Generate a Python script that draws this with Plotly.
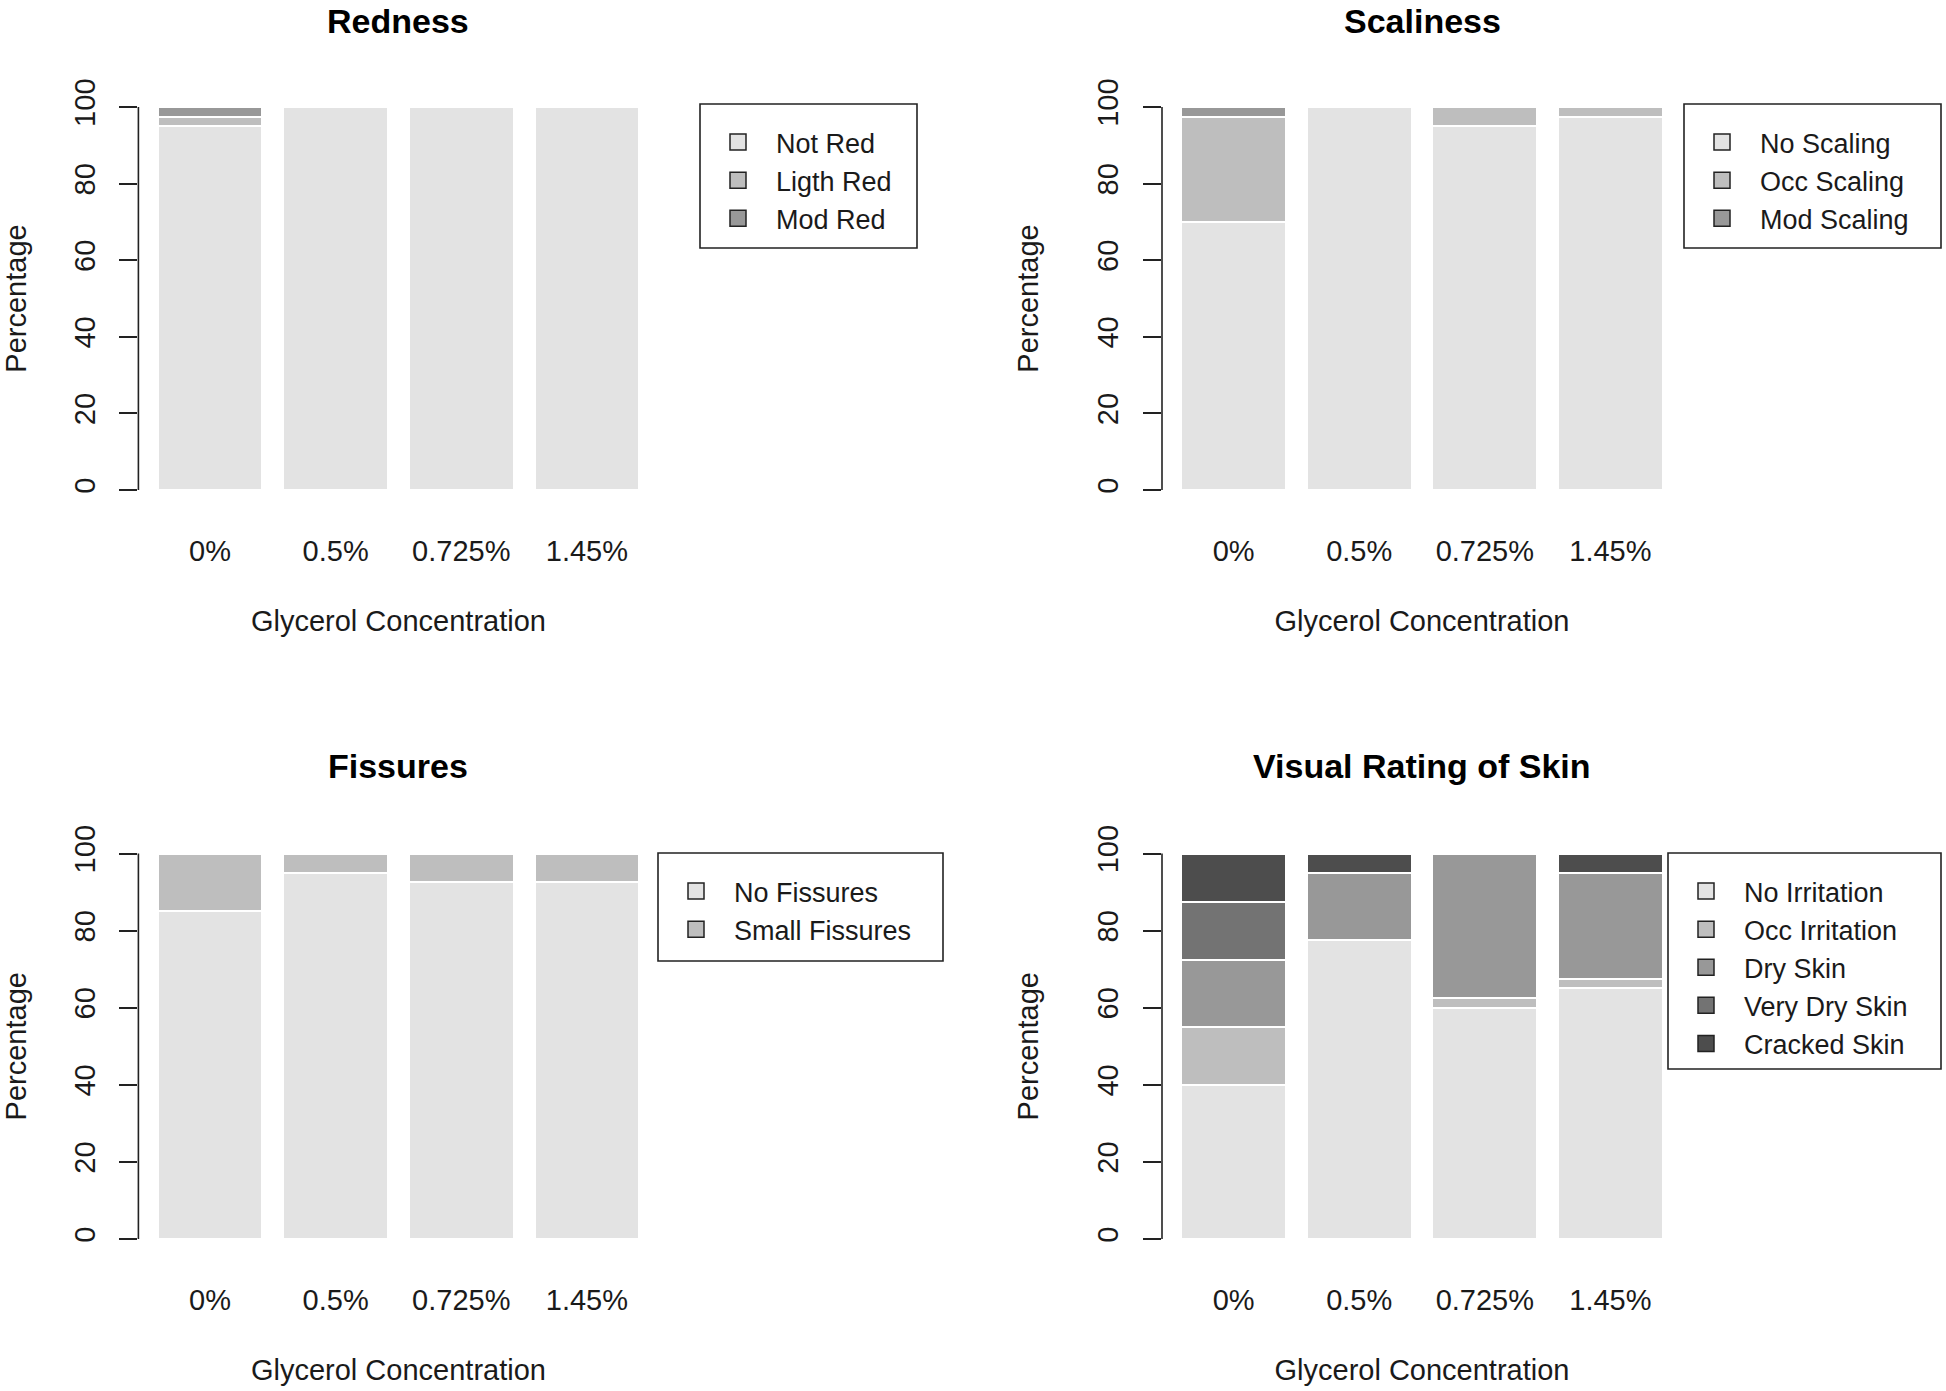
import plotly.graph_objects as go

# ---------------- data ----------------
concentrations = ["0%", "0.5%", "0.725%", "1.45%"]
y_ticks = [0, 20, 40, 60, 80, 100]

redness_labels = ["Not Red", "Ligth Red", "Mod Red"]
redness_not_red = [95, 100, 100, 100]
redness_light_red = [2.5, 0, 0, 0]
redness_mod_red = [2.5, 0, 0, 0]

scaliness_labels = ["No Scaling", "Occ Scaling", "Mod Scaling"]
scaliness_none = [70, 100, 95, 97.5]
scaliness_occ = [27.5, 0, 5, 2.5]
scaliness_mod = [2.5, 0, 0, 0]

fissures_labels = ["No Fissures", "Small Fissures"]
fissures_none = [85, 95, 92.5, 92.5]
fissures_small = [15, 5, 7.5, 7.5]

visual_labels = ["No Irritation", "Occ Irritation", "Dry Skin", "Very Dry Skin", "Cracked Skin"]
visual_no_irritation = [40, 77.5, 60, 65]
visual_occ_irritation = [15, 0, 2.5, 2.5]
visual_dry = [17.5, 17.5, 37.5, 27.5]
visual_very_dry = [15, 0, 0, 0]
visual_cracked = [12.5, 5, 0, 5]

grays = ["#E3E3E3", "#BEBEBE", "#989898", "#737373", "#4D4D4D"]

# ---------------- layout helpers ----------------
W, H = 1946, 1391
FONT = "Liberation Sans, Arial, Helvetica, sans-serif"
TXT = "#1a1a1a"
AX_FS = 29


def px_x(v):
    return v / W


def px_y(v):
    return 1 - v / H


panels = [
    dict(title="Redness", labels=redness_labels,
         series=[redness_not_red, redness_light_red, redness_mod_red],
         xdom=(138.4, 658.5), ydom=(91.7, 505.3), title_y=17,
         box=(700, 104, 917, 248)),
    dict(title="Scaliness", labels=scaliness_labels,
         series=[scaliness_none, scaliness_occ, scaliness_mod],
         xdom=(1162, 1682), ydom=(91.7, 505.3), title_y=17,
         box=(1684, 104, 1941, 248)),
    dict(title="Fissures", labels=fissures_labels,
         series=[fissures_none, fissures_small],
         xdom=(138.4, 658.5), ydom=(838.1, 1254.4), title_y=766,
         box=(658, 853, 943, 961)),
    dict(title="Visual Rating of Skin", labels=visual_labels,
         series=[visual_no_irritation, visual_occ_irritation, visual_dry,
                 visual_very_dry, visual_cracked],
         xdom=(1162, 1682), ydom=(838.1, 1254.4), title_y=766,
         box=(1668, 853, 1941, 1069)),
]

fig = go.Figure()
shapes = []
annotations = []
layout = dict(
    width=W, height=H,
    margin=dict(l=0, r=0, t=0, b=0),
    paper_bgcolor="white", plot_bgcolor="white",
    barmode="stack", bargap=0.1667,
    font=dict(family=FONT, size=AX_FS, color=TXT),
    showlegend=True,
    template="none",
)

for i, p in enumerate(panels, start=1):
    sfx = "" if i == 1 else str(i)
    xa, ya = "x" + sfx, "y" + sfx
    leg = "legend" + sfx

    for j, (lab, vals) in enumerate(zip(p["labels"], p["series"])):
        fig.add_trace(go.Bar(
            x=concentrations, y=vals, name=lab, xaxis=xa, yaxis=ya,
            marker=dict(color=grays[j], line=dict(color="white", width=2)),
            showlegend=False, hoverinfo="x+y+name",
        ))
    # legend-only entries (square keys with dark outline, as in R's legend)
    for j, lab in enumerate(p["labels"]):
        fig.add_trace(go.Scatter(
            x=[None], y=[None], name=lab, xaxis=xa, yaxis=ya,
            mode="markers",
            marker=dict(symbol="square", size=16, color=grays[j],
                        line=dict(color="#222222", width=1.5)),
            showlegend=True, legend=leg,
        ))

    layout["xaxis" + sfx] = dict(
        domain=[px_x(p["xdom"][0]), px_x(p["xdom"][1])],
        anchor=ya, type="category", range=[-0.57, 3.57],
        showline=False, showgrid=False, zeroline=False, ticks="",
        tickfont=dict(size=AX_FS, color=TXT), ticklabelstandoff=26,
        title=dict(text="Glycerol Concentration", standoff=44,
                   font=dict(size=AX_FS, color=TXT)),
        automargin=False, fixedrange=True,
    )
    layout["yaxis" + sfx] = dict(
        domain=[px_y(p["ydom"][1]), px_y(p["ydom"][0])],
        anchor=xa, range=[-4, 104], tickvals=y_ticks,
        tickangle=-90, ticks="outside", ticklen=18, tickwidth=1.6,
        tickcolor="#222222", showline=False, showgrid=False, zeroline=False,
        tickfont=dict(size=AX_FS, color=TXT), ticklabelstandoff=13,
        title=dict(text="Percentage", standoff=45, font=dict(size=AX_FS, color=TXT)),
        automargin=False, fixedrange=True,
    )
    # axis line spanning only the tick range (R style)
    shapes.append(dict(type="line", xref=xa + " domain", yref=ya,
                       x0=0, x1=0, y0=y_ticks[0], y1=y_ticks[-1],
                       line=dict(color="#222222", width=1.6)))
    # legend box
    bx0, by0, bx1, by1 = p["box"]
    shapes.append(dict(type="rect", xref="paper", yref="paper",
                       x0=px_x(bx0), x1=px_x(bx1), y0=px_y(by1), y1=px_y(by0),
                       line=dict(color="#222222", width=1.6),
                       fillcolor="rgba(0,0,0,0)"))
    layout[leg] = dict(
        x=px_x(bx0), y=px_y(by0 + 14), xanchor="left", yanchor="top",
        bgcolor="rgba(0,0,0,0)", borderwidth=0, itemwidth=66,
        traceorder="normal", font=dict(size=27, color=TXT, family=FONT),
        itemclick=False, itemdoubleclick=False,
    )
    # panel title
    if p["title_y"] < 40:
        ty, yanc = 1.0, "top"
    else:
        ty, yanc = px_y(p["title_y"]), "middle"
    annotations.append(dict(
        text="<b>" + p["title"] + "</b>", xref="paper", yref="paper",
        x=px_x((p["xdom"][0] + p["xdom"][1]) / 2), y=ty,
        xanchor="center", yanchor=yanc, showarrow=False,
        font=dict(size=34, color="black", family=FONT),
    ))

layout["shapes"] = shapes
layout["annotations"] = annotations
fig.update_layout(**layout)

fig.write_html(
    "out.html",
    config={"displayModeBar": False},
    post_script="document.body.style.margin='0';document.body.style.padding='0';",
)
